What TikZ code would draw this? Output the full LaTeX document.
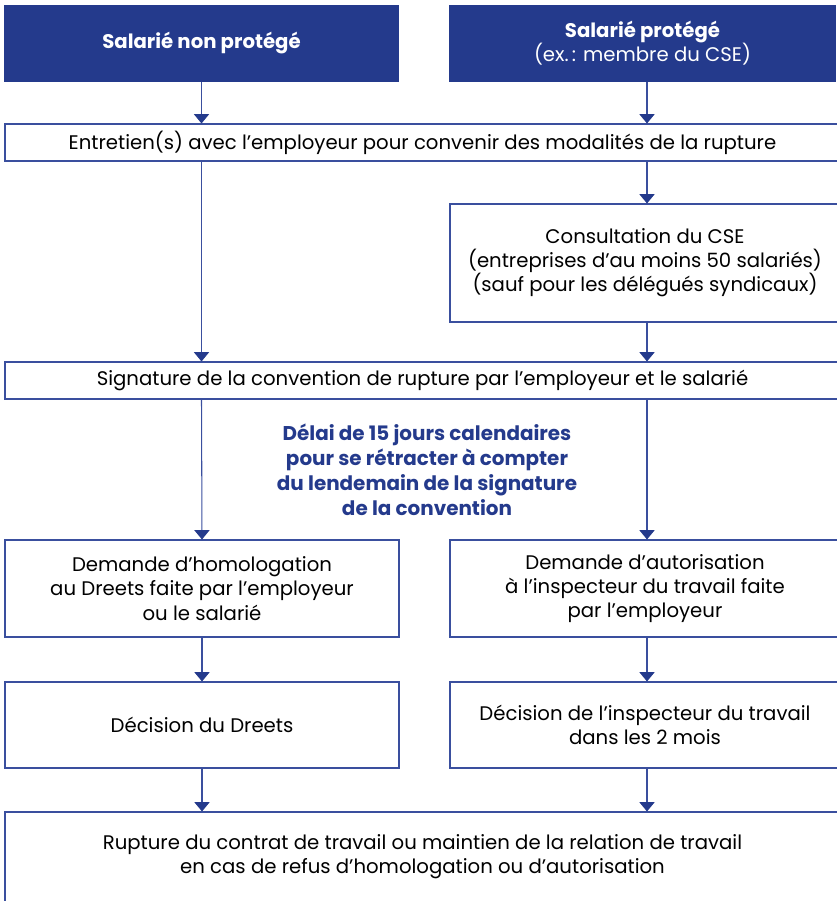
\documentclass[tikz,border=0pt]{standalone}
\usepackage{fontspec}
\setmainfont{Poppins}
\usetikzlibrary{arrows.meta}
\definecolor{navy}{HTML}{243A8C}
\definecolor{edge}{HTML}{3A4F9E}
\tikzset{
  box/.style={draw=edge, line width=0.9pt, inner sep=0pt, minimum height=#1},
  head/.style={fill=navy, text=white, inner sep=0pt, minimum height=77*0.03cm},
  arr/.style={draw=edge, line width=0.9pt, -{Triangle[width=13pt,length=8pt,color=navy]}},
}
\begin{document}
\begin{tikzpicture}[x=0.03cm, y=-0.03cm, every node/.style={font=\fontsize{16.8}{20.6}\selectfont, align=center}]
\useasboundingbox (0,0) rectangle (836,901);

\node[head, minimum width=395*0.03cm] (hleft) at (201.5,43.5) {\bfseries Salarié non protégé};
\node[head, minimum width=387*0.03cm] (hright) at (642.5,43.5) {\bfseries Salarié protégé\\(ex.\,: membre du CSE)};

\node[box=37*0.03cm, minimum width=835*0.03cm] (entretien) at (422.5,142.5) {Entretien(s) avec l’employeur pour convenir des modalités de la rupture};
\node[box=118*0.03cm, minimum width=390*0.03cm] (cse) at (645,263) {Consultation du CSE\\(entreprises d’au moins 50 salariés)\\(sauf pour les délégués syndicaux)};
\node[box=37*0.03cm, minimum width=835*0.03cm] (signature) at (422.5,380.5) {Signature de la convention de rupture par l’employeur et le salarié};

\node[text=navy, font=\fontsize{17}{21.3}\selectfont\bfseries] (delai) at (427,470) {Délai de 15 jours calendaires\\pour se rétracter à compter\\du lendemain de la signature\\de la convention};

\node[box=97*0.03cm, minimum width=394*0.03cm] (homol) at (202,588.5) {Demande d’homologation\\au Dreets faite par l’employeur\\ou le salarié};
\node[box=97*0.03cm, minimum width=390*0.03cm] (autor) at (645,588.5) {Demande d’autorisation\\à l’inspecteur du travail faite\\par l’employeur};
\node[box=86*0.03cm, minimum width=394*0.03cm] (decdreets) at (202,725) {Décision du Dreets};
\node[box=86*0.03cm, minimum width=390*0.03cm] (decinsp) at (645,725) {Décision de l’inspecteur du travail\\dans les 2 mois};
\node[box=90*0.03cm, minimum width=835*0.03cm] (rupture) at (422.5,857) {Rupture du contrat de travail ou maintien de la relation de travail\\en cas de refus d’homologation ou d’autorisation};

\coordinate (rx) at (647,0);

\draw[arr] (hleft.south) -- (hleft.south |- entretien.north);
\draw[arr] (rx |- hright.south) -- (rx |- entretien.north);
\draw[arr] (hleft.south |- entretien.south) -- (hleft.south |- signature.north);
\draw[arr] (rx |- entretien.south) -- (rx |- cse.north);
\draw[arr] (rx |- cse.south) -- (rx |- signature.north);
\draw[arr] (hleft.south |- signature.south) -- (homol.north);
\draw[arr] (rx |- signature.south) -- (rx |- autor.north);
\draw[arr] (homol.south) -- (decdreets.north);
\draw[arr] (rx |- autor.south) -- (rx |- decinsp.north);
\draw[arr] (decdreets.south) -- (decdreets.south |- rupture.north);
\draw[arr] (rx |- decinsp.south) -- (rx |- rupture.north);
\end{tikzpicture}
\end{document}
